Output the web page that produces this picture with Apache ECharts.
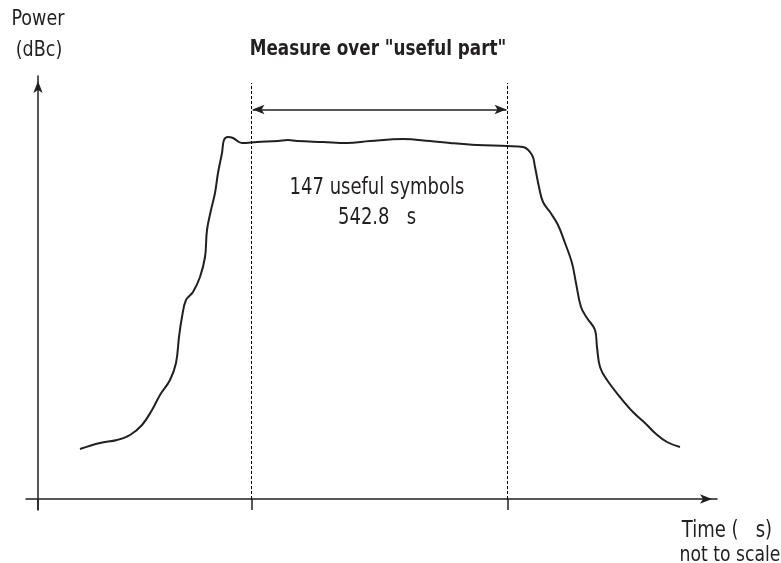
<!DOCTYPE html>
<html>
<head>
<meta charset="utf-8">
<script src="https://cdn.jsdelivr.net/npm/echarts@6/dist/echarts.min.js"></script>
<style>
  html, body { margin: 0; padding: 0; background: #fff; }
  #main { width: 781px; height: 563px; }
</style>
</head>
<body>
<div id="main"></div>
<script>
// sketch units (not to scale): x = time, y = power
const curveX = [42, 62, 79, 92, 104, 114, 122, 132, 138, 141, 144, 148, 155, 162, 167, 169, 173, 177, 180, 184, 186, 190, 195, 204, 219, 240, 250, 259, 285, 309, 332, 365, 392, 412, 439, 469, 485, 494, 497, 501, 505, 512, 520, 527, 534, 538, 543, 549, 557, 559, 562, 569, 582, 595, 609, 617, 629, 642];
const curveY = [50, 56, 59, 64, 74, 89, 104, 119, 136, 162, 182, 199, 207, 222, 242, 269, 289, 306, 326, 346, 359, 362, 361, 356, 357, 358, 359, 358, 357, 356, 358, 360, 358, 356, 354, 353, 352, 344, 332, 312, 297, 287, 274, 256, 236, 216, 192, 181, 169, 152, 132, 119, 102, 87, 74, 66, 57, 52];
const usefulStart = 213.5;
const usefulEnd = 469.5;
const dashTop = 416;
const spanLevel = 389.5;
const tickValues = [0, usefulStart, usefulEnd];

const ink = '#231f20';
const font = "'Liberation Sans Narrow', 'DejaVu Sans Condensed', 'Roboto Condensed', sans-serif";

const chart = echarts.init(document.getElementById('main'));

const curve = curveX.map((x, i) => [x, curveY[i]]);

// condensed look: draw text a bit larger and squeeze it horizontally
function label(text, x, y, size, sx, bold) {
  return {
    type: 'text', x: x, y: y, scaleX: sx,
    style: {
      text: text, x: 0, y: 0, textAlign: 'center', textVerticalAlign: 'middle',
      font: (bold ? 'bold ' : '') + size + 'px ' + font, fill: ink
    }
  };
}

chart.setOption({
  animation: false,
  grid: { left: 26, right: 64, top: 76, bottom: 53 },
  xAxis: {
    type: 'value',
    min: -12,
    max: 679,
    axisLine: {
      onZero: true,
      symbol: ['none', 'arrow'],
      symbolSize: [7, 12],
      symbolOffset: [0, -5],
      lineStyle: { color: ink, width: 1.5 }
    },
    axisTick: {
      show: true,
      customValues: tickValues,
      length: 11,
      lineStyle: { color: ink, width: 1.5 }
    },
    axisLabel: { show: false },
    splitLine: { show: false }
  },
  yAxis: {
    type: 'value',
    min: -11,
    max: 423,
    axisLine: {
      show: true,
      onZero: true,
      symbol: ['none', 'arrow'],
      symbolSize: [7, 12],
      symbolOffset: [0, -5],
      lineStyle: { color: ink, width: 1.5 }
    },
    axisTick: { show: false },
    axisLabel: { show: false },
    splitLine: { show: false }
  },
  series: [
    {
      type: 'line',
      data: curve,
      smooth: 0.4,
      showSymbol: false,
      lineStyle: { color: ink, width: 2 }
    },
    {
      type: 'line',
      data: [[usefulStart, 0], [usefulStart, dashTop]],
      showSymbol: false,
      lineStyle: { color: '#000', width: 1, type: [3, 2] },
      markLine: {
        silent: true,
        symbol: ['arrow', 'arrow'],
        symbolSize: [7, 12],
        label: { show: false },
        lineStyle: { color: ink, width: 1.5, type: 'solid' },
        data: [[{ coord: [usefulStart + 1, spanLevel] }, { coord: [usefulEnd - 1, spanLevel] }]]
      }
    },
    {
      type: 'line',
      data: [[usefulEnd, 0], [usefulEnd, dashTop]],
      showSymbol: false,
      lineStyle: { color: '#000', width: 1, type: [3, 2] }
    }
  ],
  graphic: [
    label('Measure over "useful part"', 378, 50, 21, 0.89, true),
    label('Power', 38, 20, 21, 0.93),
    label('(dBc)', 39, 51, 21, 0.93),
    label('147 useful symbols', 377, 188, 23, 0.87),
    label('542.8   s', 377, 218, 23, 0.87),
    label('Time (   s)', 727, 531, 23, 0.87),
    label('not to scale', 730, 555, 22, 0.87)
  ]
});
</script>
</body>
</html>
